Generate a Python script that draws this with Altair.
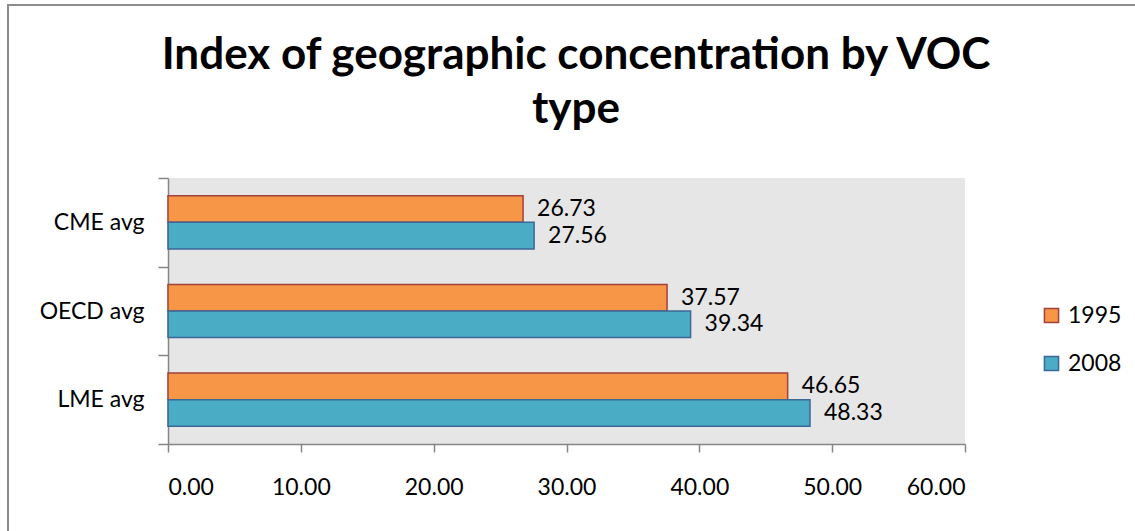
import altair as alt
import pandas as pd

# Index of geographic concentration, averaged by variety of capitalism
groups = ["CME avg", "OECD avg", "LME avg"]
years = ["1995", "2008"]
values_1995 = [26.73, 37.57, 46.65]
values_2008 = [27.56, 39.34, 48.33]
title_lines = ["Index of geographic concentration by VOC", "type"]

fill_colors = ["#f79646", "#4bacc6"]
edge_colors = ["#a3413c", "#3b6797"]

rows = []
for g, v95, v08 in zip(groups, values_1995, values_2008):
    rows.append({"group": g, "year": "1995", "value": v95})
    rows.append({"group": g, "year": "2008", "value": v08})
df = pd.DataFrame(rows)

FONT = "Lato"
FS = 23
PLOT_W, PLOT_H = 797, 266
LEFT, TOP = 168, 178

y_enc = alt.Y(
    "group:N",
    sort=groups,
    scale=alt.Scale(paddingInner=0, paddingOuter=0),
    axis=alt.Axis(
        title=None,
        tickBand="extent",
        tickSize=10,
        labelPadding=14,
        labelFontSize=FS,
        labelFont=FONT,
        labelColor="black",
        domainColor="#868686",
        tickColor="#868686",
        domainWidth=1.5,
        tickWidth=1.5,
    ),
)
y_off = alt.YOffset(
    "year:N",
    sort=years,
    scale=alt.Scale(paddingOuter=0.667, paddingInner=0),
)
x_enc = alt.X(
    "value:Q",
    scale=alt.Scale(domain=[0, 60], nice=False),
    axis=alt.Axis(
        title=None,
        values=[0, 10, 20, 30, 40, 50, 60],
        format=".2f",
        grid=False,
        tickSize=8,
        labelPadding=24,
        labelFontSize=FS,
        labelFont=FONT,
        labelColor="black",
        domainColor="#868686",
        tickColor="#868686",
        domainWidth=1.5,
        tickWidth=1.5,
    ),
)

bars = alt.Chart(df).mark_bar(strokeWidth=1.5).encode(
    x=x_enc,
    y=y_enc,
    yOffset=y_off,
    color=alt.Color(
        "year:N",
        sort=years,
        scale=alt.Scale(domain=years, range=fill_colors),
        legend=alt.Legend(
            title=None,
            orient="none",
            legendX=1040 - LEFT,
            legendY=126,
            symbolType="square",
            symbolSize=200,
            symbolStrokeWidth=1.5,
            labelFontSize=FS,
            labelFont=FONT,
            labelColor="black",
            rowPadding=24,
            labelOffset=5,
        ),
    ),
    stroke=alt.Stroke(
        "year:N",
        sort=years,
        scale=alt.Scale(domain=years, range=edge_colors),
    ),
)

labels = alt.Chart(df).mark_text(
    align="left", baseline="middle", dx=14, fontSize=FS, font=FONT, color="black"
).encode(
    x="value:Q",
    y=alt.Y("group:N", sort=groups),
    yOffset=alt.YOffset("year:N", sort=years),
    text=alt.Text("value:Q", format=".2f"),
)

frame = alt.Chart(alt.Data(values=[{}])).mark_rect(
    fill=None, stroke="#8c8c8c", strokeWidth=2
).encode(
    x=alt.value(8 - LEFT),
    y=alt.value(5 - TOP),
    x2=alt.value(1135 - LEFT + 10),
    y2=alt.value(531 - TOP + 10),
)

# Two-line heading, centred above the plot
heading = [
    alt.Chart(alt.Data(values=[{}])).mark_text(
        text=line, fontSize=44, font=FONT, fontWeight="bold", color="black",
        align="center", baseline="alphabetic",
    ).encode(x=alt.value(576 - LEFT), y=alt.value(base - TOP))
    for line, base in zip(title_lines, [69, 123])
]

chart = alt.layer(frame, bars, labels, *heading).properties(
    width=PLOT_W,
    height=PLOT_H,
    autosize=alt.AutoSizeParams(type="none"),
    padding={"left": LEFT, "top": TOP, "right": 1135 - LEFT - PLOT_W, "bottom": 531 - TOP - PLOT_H},
).configure(
    background="white"
).configure_view(
    fill="#e6e6e6", stroke=None
)

chart.save("out.html", embed_options={"renderer": "svg", "actions": False})
